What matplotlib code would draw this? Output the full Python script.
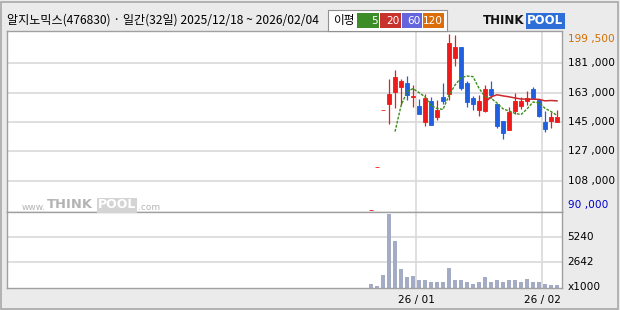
import matplotlib
matplotlib.use('Agg')
import matplotlib.pyplot as plt
import numpy as np
import pandas as pd
from matplotlib.patches import Rectangle

plt.rcParams['font.family'] = ['Noto Sans CJK KR', 'DejaVu Sans']

# 일간 시세 (2025/12/18 ~ 2026/02/04)
dates = ['2025-12-18', '2025-12-19', '2025-12-22', '2025-12-23', '2025-12-24', '2025-12-26',
         '2025-12-29', '2025-12-30', '2026-01-02', '2026-01-05', '2026-01-06', '2026-01-07',
         '2026-01-08', '2026-01-09', '2026-01-12', '2026-01-13', '2026-01-14', '2026-01-15',
         '2026-01-16', '2026-01-19', '2026-01-20', '2026-01-21', '2026-01-22', '2026-01-23',
         '2026-01-26', '2026-01-27', '2026-01-28', '2026-01-29', '2026-01-30', '2026-02-02',
         '2026-02-03', '2026-02-04']
opens = [90000, 117000, 152000, 156100, 163400, 166700, 169000, 160300, 154700, 144900,
         157600, 147800, 160300, 162300, 184700, 191400, 169200, 159700, 152400, 151800,
         165300, 155900, 145300, 140000, 151800, 154700, 157600, 165300, 158500, 144700,
         145300, 144900]
highs = [90000, 117000, 152000, 171300, 177100, 171500, 173300, 168000, 159200, 162100,
         160300, 158600, 169200, 199500, 199000, 191400, 170200, 161100, 161500, 168000,
         170200, 155900, 145300, 153800, 162800, 160300, 164000, 166700, 158500, 151600,
         150900, 152200]
lows = [90000, 117000, 152000, 143700, 153400, 155100, 158200, 154300, 149900, 142400,
        143100, 146200, 155700, 158500, 179800, 164600, 154300, 152200, 148700, 150900,
        159900, 140800, 134400, 139500, 149500, 153000, 155500, 158900, 147600, 138500,
        141000, 144500]
closes = [90000, 117000, 152000, 162100, 172700, 170200, 161700, 160700, 149900, 159700,
          143100, 152400, 157800, 193900, 191400, 166100, 157400, 156100, 157600, 165300,
          161300, 142400, 138100, 150900, 157800, 157800, 159700, 159700, 148500, 140600,
          147800, 147600]
volumes = [443, 239, 1364, 7604, 4842, 1978, 1159, 1262, 784, 784, 648, 648, 648, 2080,
           853, 853, 648, 443, 648, 1159, 648, 853, 648, 853, 853, 648, 955, 648, 648,
           443, 341, 341]  # 단위: 1000주

price_labels = ['90,000', '108,000', '127,000', '145,000', '163,000', '181,000', '199,500']
vol_ticks = [2642, 5240]

df = pd.DataFrame({'date': pd.to_datetime(dates), 'open': opens, 'high': highs,
                   'low': lows, 'close': closes, 'volume': volumes})
ma5 = df['close'].rolling(5).mean()
ma20 = df['close'].rolling(20).mean()

RED = '#f01a1a'
BLUE = '#1f5fe0'
BG = '#ebebeb'
GRID = '#d9d9d9'
EDGE = '#a0a0a0'

W, H = 620, 310
fig = plt.figure(figsize=(W / 100, H / 100), dpi=100, facecolor=BG)


def box(l, t, r, b):
    return [l / W, 1 - b / H, (r - l) / W, (b - t) / H]


ax = fig.add_axes(box(7, 31, 562, 212))
axv = fig.add_axes(box(7, 212, 562, 288))

n = len(df)
x = np.arange(n)
xlim = (-60.67, n - 0.17)
lo_p, hi_p = df['low'].min(), df['high'].max()
levels = np.linspace(lo_p, hi_p, 7)
ppx = (hi_p - lo_p) / 176.0

for a in (ax, axv):
    a.set_xlim(*xlim)
    a.set_facecolor('white')
    a.set_xticks([])
    a.set_yticks([])
    for s in a.spines.values():
        s.set_color(EDGE)
        s.set_linewidth(1.0)

ax.set_ylim(lo_p - 2 * ppx, hi_p + 3 * ppx)
axv.set_ylim(0, 7860)

# 격자
for lv in levels[1:-1]:
    ax.axhline(lv, color=GRID, lw=1.2, zorder=0)
for v in vol_ticks:
    axv.axhline(v, color=GRID, lw=1.2, zorder=0)
month = df['date'].dt.month.values
bounds = [i - 0.5 for i in range(1, n) if month[i] != month[i - 1]]
for b in bounds:
    ax.axvline(b, color=GRID, lw=1.2, zorder=0)
    axv.axvline(b, color=GRID, lw=1.2, zorder=0)

# 워터마크
fig.text(22 / W, 1 - 207 / H, 'www.', fontsize=6.5, color='#b4b4b4', ha='left',
         va='center', family='DejaVu Sans')
fig.text(47 / W, 1 - 205 / H, 'THINK', fontsize=9.4, fontweight='bold', color='#b4b4b4',
         ha='left', va='center', family='DejaVu Sans')
fig.text(98 / W, 1 - 205 / H, 'POOL', fontsize=9.0, fontweight='bold', color='white',
         ha='left', va='center', family='DejaVu Sans',
         bbox=dict(boxstyle='square,pad=0.08', fc='#d4d4d4', ec='none'))
fig.text(138 / W, 1 - 207 / H, '.com', fontsize=6.5, color='#b4b4b4', ha='left',
         va='center', family='DejaVu Sans')

# 캔들
for i, r in df.iterrows():
    c = RED if r['close'] >= r['open'] else BLUE
    ax.vlines(i, r['low'], r['high'], color=c, lw=0.9, zorder=2)
    lo = min(r['open'], r['close'])
    hgt = abs(r['close'] - r['open'])
    ax.bar(i, hgt, bottom=lo, width=0.82, color=c, edgecolor=c, lw=0.6, zorder=3)

ax.plot(x, ma5, color='#3a8f1a', lw=1.0, ls=(0, (2, 1)), zorder=4)
ax.plot(x, ma20, color='#cc2a2a', lw=1.1, zorder=4)

axv.bar(x, df['volume'], width=0.82, color='#a3acc4', zorder=2)

# 우측 축 라벨
tr = ax.get_yaxis_transform()
for lv, lab in zip(levels, price_labels):
    col = 'black'
    va = 'center'
    if lab == price_labels[-1]:
        col, va = '#d26e00', 'top'
    elif lab == price_labels[0]:
        col, va = '#0000d0', 'bottom'
    ax.text(1.01, lv, lab.replace(',', ' ,'), transform=tr, ha='left', va=va,
            fontsize=7.6, color=col, family='DejaVu Sans')
trv = axv.get_yaxis_transform()
for v in vol_ticks:
    axv.text(1.01, v, str(v), transform=trv, ha='left', va='center', fontsize=7.6,
             family='DejaVu Sans')
axv.text(1.01, 150, 'x1000', transform=trv, ha='left', va='center', fontsize=7.6,
         family='DejaVu Sans')

# 날짜 라벨
trx = axv.get_xaxis_transform()
for b in bounds:
    d = df['date'].iloc[int(b + 0.5)]
    axv.text(b, -0.16, d.strftime('%y / %m'), transform=trx, ha='center', va='center',
             fontsize=7.6, family='DejaVu Sans')

# 제목
fig.text(7 / W, 1 - 20 / H, '알지노믹스(476830) · 일간(32일) 2025/12/18 ~ 2026/02/04',
         fontsize=8.7, ha='left', va='center')

# 이평 범례
fig.patches.append(Rectangle((328 / W, 1 - 31 / H), 119 / W, 21 / H, transform=fig.transFigure,
                             facecolor='white', edgecolor='#909090', lw=0.8))
fig.text(333 / W, 1 - 20.5 / H, '이평', fontsize=8.4, ha='left', va='center')
legend = [('5', '#3c8c28', 357, 379), ('20', '#c8322d', 380, 401),
          ('60', '#6464dc', 402, 422), ('120', '#dc6e0a', 423, 444)]
for lab, col, l, r in legend:
    fig.patches.append(Rectangle((l / W, 1 - 28 / H), (r - l) / W, 15 / H,
                                 transform=fig.transFigure, facecolor=col, edgecolor='none'))
    fig.text((r - 1.5) / W, 1 - 20.5 / H, lab, fontsize=7.6, color='white', ha='right',
             va='center', family='DejaVu Sans')

# 로고
fig.text(483 / W, 1 - 21 / H, 'THINK', fontsize=8.5, fontweight='bold', color='#111111',
         ha='left', va='center', family='DejaVu Sans')
fig.text(527 / W, 1 - 21 / H, 'POOL', fontsize=8.5, fontweight='bold', color='white',
         ha='left', va='center', family='DejaVu Sans',
         bbox=dict(boxstyle='square,pad=0.12', fc='#2d6fd6', ec='none'))

fig.patches.append(Rectangle((1 / W, 1 / H), 617 / W, 307 / H, transform=fig.transFigure,
                             facecolor='none', edgecolor='#a8a8a8', lw=1.2))

fig.savefig('out.png', dpi=100, facecolor=BG)
